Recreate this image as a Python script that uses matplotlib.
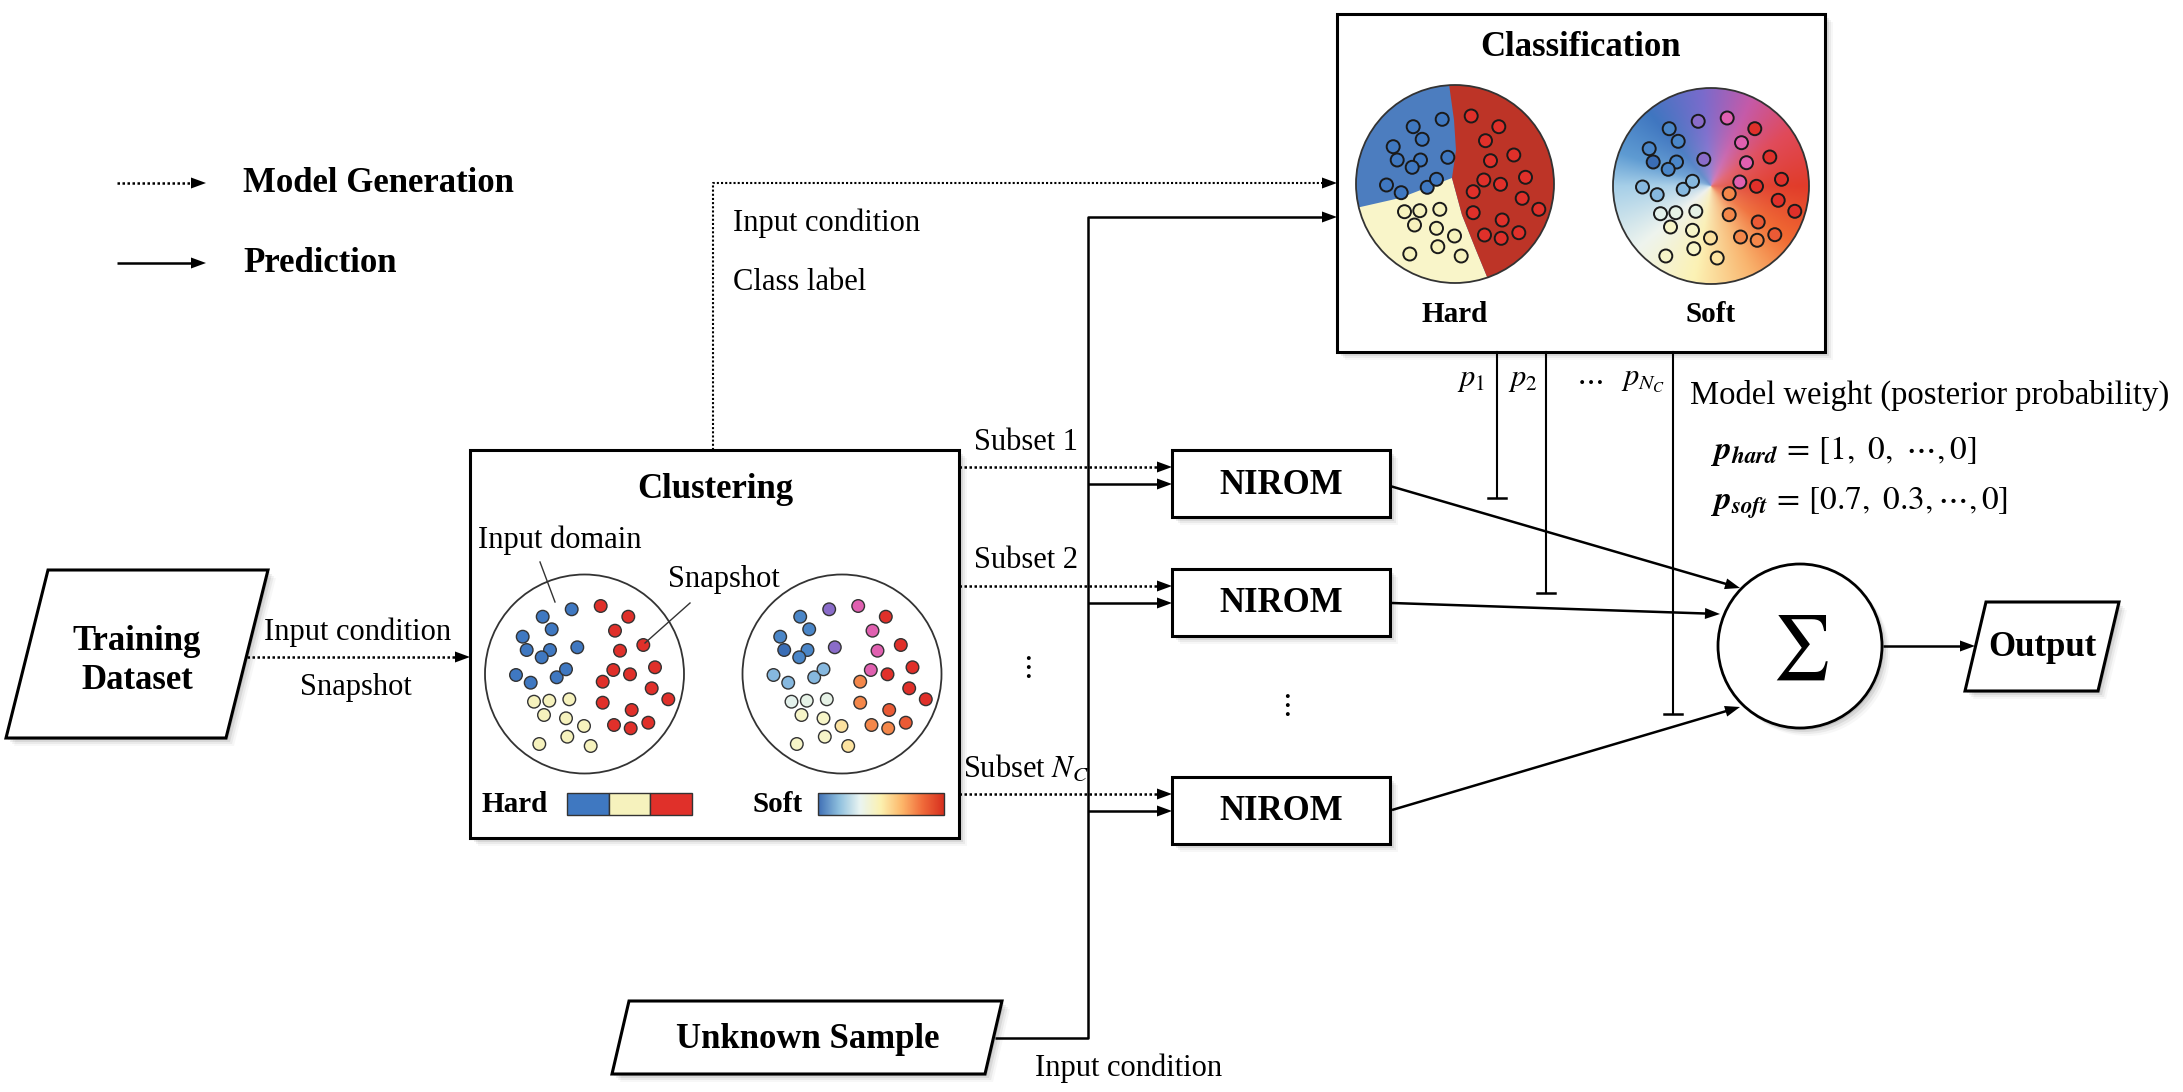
import numpy as np
import matplotlib
matplotlib.use("Agg")
import matplotlib.pyplot as plt
from matplotlib.patches import Polygon, Rectangle, Circle
from matplotlib.colors import to_rgb, LinearSegmentedColormap

plt.rcParams['font.family'] = ['Liberation Serif', 'DejaVu Serif']
plt.rcParams['mathtext.fontset'] = 'stix'

# snapshot layout inside each input-domain circle (offset from centre, px, y down)
dot_dx = [-12.8, -41.8, -32.8, -61.8, -57.8, -34.5, -42.8, -7.2, -68.5, -53.8, -27.8, -18.5,
          16.2, 43.8, 30.5, 58.8, 35.5, 70.5, 28.8, 45.5, 18.2, 67.2, 18.2, 83.8, 47.2, 29.5, 46.2, 63.8,
          -50.5, -35.2, -15.2, -40.5, -18.5, -0.5, -17.2, -45.2, 6.2]
dot_dy = [-64.7, -57.3, -44.7, -37.3, -24.0, -24.0, -16.7, -26.7, 1.0, 8.7, 3.3, -4.7,
          -68.0, -57.3, -43.3, -29.0, -23.3, -6.7, -4.0, 0.3, 7.7, 14.3, 28.7, 25.3, 36.0, 51.0, 54.3, 48.7,
          27.7, 26.7, 25.3, 41.0, 44.3, 52.0, 62.7, 70.0, 72.0]
# hard cluster: 0 blue, 1 cream, 2 red
dot_cluster = [0] * 12 + [2] * 16 + [1] * 9
dot_soft = ['#8a6cc9', '#4a86c8', '#4a86c8', '#4a86c8', '#3a6db5', '#4a86c8', '#4a86c8', '#8a6cc9',
            '#86b8df', '#86b8df', '#86b8df', '#86b8df',
            '#e060b0', '#e0302a', '#e060b0', '#e0302a', '#e060b0', '#e0302a', '#e060b0', '#e0302a',
            '#f4874a', '#e0302a', '#f4874a', '#e0302a', '#ea5a35', '#f4874a', '#f4874a', '#ea5a35',
            '#e3f1ec', '#e6f2e6', '#e6f2e6', '#f7f5c8', '#f7f5c8', '#fbe1a0', '#f7f5c8', '#f7f5c8', '#fde3a0']

hard_colors = ['#3f78c1', '#f6f2bd', '#e0302a']
region_colors = ['#4c7dbf', '#f9f5c9', '#bd3427']
softbar_colors = ['#3f6fb5', '#8fc0de', '#eaf5f2', '#fcf1b0', '#fdb76a', '#f06a3a', '#d7301f']

# soft classification background: colour by direction (deg, y up)
soft_ang = [-180, -140, -100, -65, -35, 0, 35, 65, 95, 130, 160, 180]
soft_col = ['#a6cfe8', '#eef4ee', '#fcf2b4', '#f9b46e', '#f06a32', '#e13c2a',
            '#e04a5a', '#c55aa8', '#7a6bcc', '#3f76c0', '#5e9bd2', '#a6cfe8']

subset_labels = ['Subset 1', 'Subset 2', 'Subset $N_C$']
nirom_y = [450, 569, 777]
weight_labels = [r'$p_1$', r'$p_2$', r'$\cdots$', r'$p_{N_C}$']

BOLD = 25
NORM = 22
LW = 1.8
DOT = (0, (1, 1))

fig = plt.figure(figsize=(21.83, 10.92), dpi=100)
ax = fig.add_axes([0, 0, 1, 1])
ax.set_xlim(0, 2183)
ax.set_ylim(1092, 0)
ax.set_aspect('equal')
ax.axis('off')


def head(x0, y0, x1, y1, L=15, W=5.5):
    d = np.array([x1 - x0, y1 - y0], float)
    d /= np.hypot(*d)
    n = np.array([-d[1], d[0]])
    tip = np.array([x1, y1])
    base = tip - L * d
    ax.add_patch(Polygon([tip, base + W * n, base - W * n], closed=True,
                         color='k', lw=0, zorder=5))


def arrow(pts, dotted=False, lw=LW):
    pts = np.array(pts, float)
    d = pts[-1] - pts[-2]
    end = pts[-1] - 10 * d / np.hypot(*d)
    xs = list(pts[:-1, 0]) + [end[0]]
    ys = list(pts[:-1, 1]) + [end[1]]
    ax.plot(xs, ys, color='k', lw=lw, ls=DOT if dotted else '-', zorder=4,
            solid_capstyle='butt')
    head(*pts[-2], *pts[-1])


def shadow_poly(verts):
    for o, a in ((2, 0.10), (4, 0.07), (6, 0.05), (8, 0.03)):
        ax.add_patch(Polygon([(x + o, y + o) for x, y in verts], closed=True,
                             color='k', alpha=a, lw=0, zorder=1))


def box(x0, y0, x1, y1, lw=2.2):
    v = [(x0, y0), (x1, y0), (x1, y1), (x0, y1)]
    shadow_poly(v)
    ax.add_patch(Polygon(v, closed=True, fc='white', ec='k', lw=lw, zorder=2))


def para(verts, lw=2.2):
    shadow_poly(verts)
    ax.add_patch(Polygon(verts, closed=True, fc='white', ec='k', lw=lw, zorder=2))


# ---------------- legend ----------------
arrow([(117, 183), (206, 183)], dotted=True)
arrow([(117, 263), (206, 263)])
ax.text(243, 183, 'Model Generation', fontsize=BOLD, fontweight='bold', va='center')
ax.text(243, 263, 'Prediction', fontsize=BOLD, fontweight='bold', va='center')

# ---------------- training dataset ----------------
para([(48, 570), (268, 570), (226, 738), (6, 738)])
ax.text(137, 661, 'Training\nDataset', fontsize=BOLD, fontweight='bold',
        ha='center', va='center', linespacing=1.25, zorder=6)
arrow([(247, 657), (470, 657)], dotted=True)
ax.text(358, 632, 'Input condition', fontsize=NORM, ha='center', va='center')
ax.text(356, 688, 'Snapshot', fontsize=NORM, ha='center', va='center')

# ---------------- clustering ----------------
box(470, 450, 959, 838)
ax.text(715, 490, 'Clustering', fontsize=BOLD, fontweight='bold', ha='center', va='center', zorder=6)

for cx, soft in ((584.5, False), (842, True)):
    cy = 674
    ax.add_patch(Circle((cx, cy), 99.5, fc='white', ec='#333', lw=1.3, zorder=3))
    for dx, dy, k, sc in zip(dot_dx, dot_dy, dot_cluster, dot_soft):
        ax.add_patch(Circle((cx + dx, cy + dy), 6.3, fc=sc if soft else hard_colors[k],
                            ec='#333', lw=1.0, zorder=4))

ax.text(478, 540, 'Input domain', fontsize=NORM, va='center', zorder=6)
ax.plot([540, 555], [562, 602], color='#333', lw=1.0, zorder=5)
ax.text(668, 580, 'Snapshot', fontsize=NORM, va='center', zorder=6)
ax.plot([690, 645], [603, 643], color='#333', lw=1.0, zorder=5)

ax.text(482, 804, 'Hard', fontsize=21, fontweight='bold', va='center', zorder=6)
seg = (692 - 567) / 3
for i, c in enumerate(hard_colors):
    ax.add_patch(Rectangle((567 + i * seg, 793), seg, 22, fc=c, ec='#333', lw=1.0, zorder=4))
ax.text(752, 804, 'Soft', fontsize=21, fontweight='bold', va='center', zorder=6)
softbar = LinearSegmentedColormap.from_list('softbar', softbar_colors)
grad = np.linspace(0, 1, 256)[None, :]
ax.imshow(grad, cmap=softbar, extent=(818, 944, 815, 793), aspect='auto', zorder=3)
ax.add_patch(Rectangle((818, 793), 126, 22, fc='none', ec='#333', lw=1.0, zorder=4))

# ---------------- classification ----------------
box(1337, 14, 1825, 352)
ax.text(1581, 48, 'Classification', fontsize=BOLD, fontweight='bold', ha='center', va='center', zorder=6)

# hard
hcx, hcy, hr = 1455, 184, 99
clip = Circle((hcx, hcy), hr, transform=ax.transData)
ax.add_patch(Circle((hcx, hcy), hr, fc=region_colors[0], ec='none', zorder=3))
red_edge = [(1449, 84), (1454, 120), (1456, 150), (1452, 178), (1462, 215), (1476, 250), (1490, 284)]
cream = Polygon([(1340, 208), (1356, 208), (1400, 198)] + red_edge[3:] + [(1490, 300), (1340, 300)],
                closed=True, fc=region_colors[1], lw=0, zorder=3)
red = Polygon([(1449, 70)] + red_edge + [(1490, 300), (1570, 300), (1570, 70)],
              closed=True, fc=region_colors[2], lw=0, zorder=3)
for p in (cream, red):
    ax.add_patch(p)
    p.set_clip_path(clip)
ax.add_patch(Circle((hcx, hcy), hr, fc='none', ec='#333', lw=1.3, zorder=4))
for dx, dy, k in zip(dot_dx, dot_dy, dot_cluster):
    ax.add_patch(Circle((hcx + dx, hcy + dy), 6.5, fc=hard_colors[k], ec='#1a1a1a',
                        lw=1.4, zorder=5))
ax.text(hcx, 315, 'Hard', fontsize=21, fontweight='bold', ha='center', va='center')

# soft
scx, scy, sr = 1711, 186, 98
N = 300
g = np.linspace(-sr, sr, N)
X, Y = np.meshgrid(g, g)
ang = np.degrees(np.arctan2(-Y, X))
rad = np.clip(np.hypot(X, Y) / sr, 0, 1)
rgb = np.array([to_rgb(c) for c in soft_col])
img = np.stack([np.interp(ang, soft_ang, rgb[:, i]) for i in range(3)], axis=-1)
w = (0.3 * (1 - rad) ** 2.2)[..., None]
img = img * (1 - w) + w * np.array([0.93, 0.90, 0.94])
im = ax.imshow(img, extent=(scx - sr, scx + sr, scy + sr, scy - sr), zorder=3,
               interpolation='bilinear')
im.set_clip_path(Circle((scx, scy), sr, transform=ax.transData))
ax.add_patch(Circle((scx, scy), sr, fc='none', ec='#333', lw=1.3, zorder=4))
for dx, dy, sc in zip(dot_dx, dot_dy, dot_soft):
    ax.add_patch(Circle((scx + dx, scy + dy), 6.5, fc=sc, ec='#1a1a1a', lw=1.4, zorder=5))
ax.text(scx, 315, 'Soft', fontsize=21, fontweight='bold', ha='center', va='center')

# model-generation path to classification
ax.plot([713, 713, 1326], [450, 183, 183], color='k', lw=1.5, ls=DOT, zorder=4)
head(1300, 183, 1337, 183)
ax.text(733, 223, 'Input condition', fontsize=NORM, va='center')
ax.text(733, 282, 'Class label', fontsize=NORM, va='center')

# ---------------- unknown sample & prediction path ----------------
para([(629, 1001), (1002, 1001), (985, 1074), (612, 1074)])
ax.text(808, 1040, 'Unknown Sample', fontsize=BOLD, fontweight='bold', ha='center', va='center', zorder=6)
ax.text(1129, 1068, 'Input condition', fontsize=NORM, ha='center', va='center')
arrow([(995, 1038), (1088, 1038), (1088, 217), (1337, 217)])

# ---------------- NIROM blocks ----------------
for lab, y0 in zip(subset_labels, nirom_y):
    box(1172, y0, 1390, y0 + 67)
    ax.text(1281, y0 + 35, 'NIROM', fontsize=BOLD, fontweight='bold', ha='center', va='center', zorder=6)
    arrow([(959, y0 + 17), (1172, y0 + 17)], dotted=True)
    arrow([(1088, y0 + 34), (1172, y0 + 34)])
    ax.text(1026, y0 - 8, lab, fontsize=NORM, ha='center', va='center')

ax.text(1026, 668, r'$\vdots$', fontsize=NORM, ha='center', va='center')
ax.text(1285, 706, r'$\vdots$', fontsize=NORM, ha='center', va='center')

# ---------------- weights ----------------
for x, y1 in ((1497, 498), (1546, 593), (1673, 714)):
    ax.plot([x, x], [352, y1], color='k', lw=1.5, zorder=4)
    ax.plot([x - 9, x + 9], [y1, y1], color='k', lw=1.8, zorder=4)
for x, lab in zip((1471, 1523, 1589, 1643), weight_labels):
    ax.text(x, 380, lab, fontsize=NORM, ha='center', va='center')

ax.text(1690, 395, 'Model weight (posterior probability)', fontsize=23.5, va='center')
ax.text(1710, 451, r'$\mathbfit{p}_{\mathbfit{hard}}\,=\,[1,\ 0,\ \cdots,0]$', fontsize=24, va='center')
ax.text(1710, 503, r'$\mathbfit{p}_{\mathbfit{soft}}\,=\,[0.7,\ 0.3,\cdots,0]$', fontsize=24, va='center')

# ---------------- summation & output ----------------
arrow([(1390, 486), (1740, 588)])
arrow([(1392, 603), (1720, 614)])
arrow([(1392, 810), (1740, 707)])

for o, a in ((2, 0.10), (4, 0.07), (6, 0.05), (8, 0.03)):
    ax.add_patch(Circle((1800 + o, 646 + o), 82, color='k', alpha=a, lw=0, zorder=1))
ax.add_patch(Circle((1800, 646), 82, fc='white', ec='k', lw=2.0, zorder=2))
ax.text(1800, 648, r'$\sum$', fontsize=46, ha='center', va='center', zorder=6)

arrow([(1883, 646), (1975, 646)])
para([(1986, 602), (2119, 602), (2098, 691), (1965, 691)])
ax.text(2042, 648, 'Output', fontsize=BOLD, fontweight='bold', ha='center', va='center', zorder=6)

fig.savefig('out.png', dpi=100, facecolor='white')
